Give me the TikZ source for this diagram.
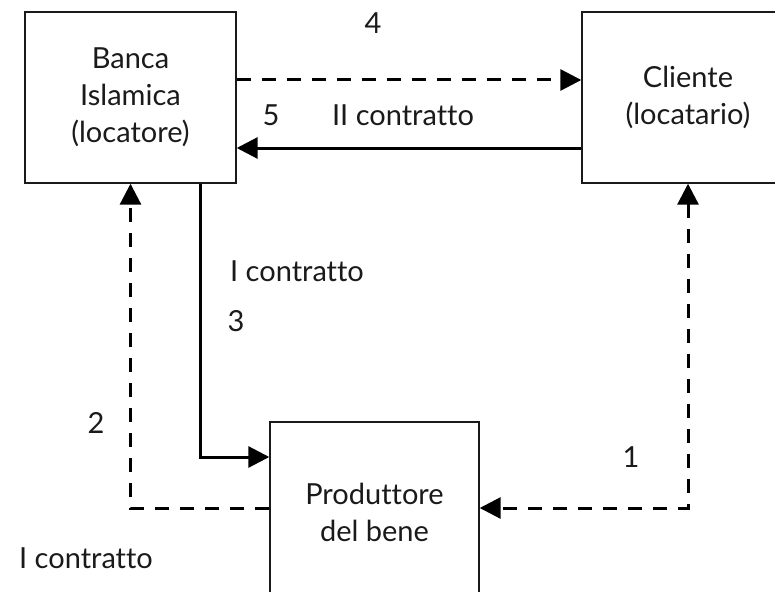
\documentclass[tikz,border=0pt]{standalone}
\usepackage{fontspec}
\setmainfont{Lato}[Ligatures=NoCommon]
\usetikzlibrary{arrows.meta,positioning,calc}
\definecolor{inkDark}{HTML}{1A1A1A}

\begin{document}
\begin{tikzpicture}[x=1pt, y=-1pt, >={Triangle[length=21pt,width=21pt]},
  font=\fontsize{29}{37}\selectfont, text=inkDark,
  party/.style={draw=inkDark, line width=1.4pt, inner sep=0pt, align=center},
  flow/.style={draw=black, line width=3pt},
  promise/.style={flow, dash pattern=on 14pt off 11pt},
  tag/.style={inner sep=0pt}]
\useasboundingbox (0,0) rectangle (775,591);
% the three parties
\node[party, minimum width=211pt, minimum height=171pt] (bank) at (130.5,97.5) {Banca\\Islamica\\(locatore)};
\node[party, minimum width=212pt, minimum height=171pt] (client) at (688,97.5) {Cliente\\(locatario)};
\node[party, minimum width=209pt, minimum height=180pt] (maker) at (374.5,512) {Produttore\\del bene};
% flows between them
\draw[promise, ->] ([yshift=17.5pt]bank.east) -- ([yshift=17.5pt]client.west);
\draw[flow, ->] ([yshift=-50.5pt]client.west) -- ([yshift=-50.5pt]bank.west -| bank.east);
\draw[flow, ->] ([xshift=69.5pt]bank.south) |- ([yshift=55pt]maker.west);
\draw[promise, ->] ([yshift=4pt]maker.west) -| (bank.south);
\draw[promise, <->] (client.south) |- ([yshift=4pt]maker.east);
% numbers and labels
\node[tag] (nfour) at (373,23) {4};
\node[tag] (nfive) at (271,115) {5};
\node[tag] (secondc) at (403,115) {II contratto};
\node[tag] (firstc) at (297,271) {I contratto};
\node[tag] (nthree) at (236,321) {3};
\node[tag] (ntwo) at (96,423) {2};
\node[tag] (firstcb) at (86,558) {I contratto};
\node[tag] (none) at (631,457) {1};
\end{tikzpicture}
\end{document}
